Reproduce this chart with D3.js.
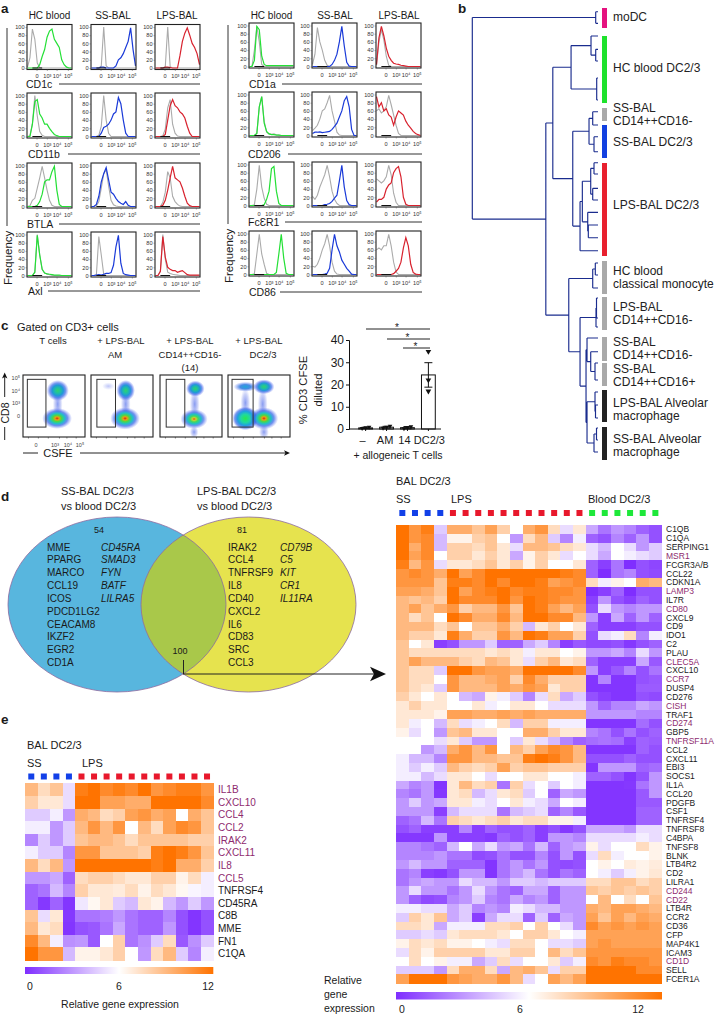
<!DOCTYPE html>
<html>
<head>
<meta charset="utf-8">
<script src="https://cdn.jsdelivr.net/npm/d3@7/dist/d3.min.js"></script>
<style>
	html, body { margin: 0; padding: 0; background: #fff; }
	svg { display: block; }
	text { font-family: "Liberation Sans", Arial, sans-serif; fill: #1a1a1a; }
</style>
</head>
<body>
<svg id="fig" width="718" height="1017"></svg>
<script>
// ---- panel a: histograms, 19 bins per panel, rows are markers, columns HC / SS / LPS
let histMarkersLeft = ['CD1c', 'CD11b', 'BTLA', 'Axl']
let histMarkersRight = ['CD1a', 'CD206', 'FcƐR1', 'CD86']
let histColumns = ['HC blood', 'SS-BAL', 'LPS-BAL']
let histTickBins = [3.7, 7.9, 11.9, 16.5]
let histTickLabels = ['0', '10³', '10⁴', '10⁵']
let histFreqTicks = [0, 20, 40, 60, 80, 100]

let grayLeft = [
	[[2,25,95,70,12,1,0,0,0,0,0,0,0,0,0,0,0,0,0], [0,0,0,0,5,100,5,0,0,0,0,0,0,0,0,0,0,0,0], [0,0,0,0,3,100,3,0,0,0,0,0,0,0,0,0,0,0,0]],
	[[0,2,30,100,50,12,3,0,0,0,0,0,0,0,0,0,0,0,0], [0,0,0,3,25,100,40,8,0,0,0,0,0,0,0,0,0,0,0], [0,0,0,2,18,70,90,30,8,1,0,0,0,0,0,0,0,0,0]],
	[[0,2,15,20,45,70,98,70,40,15,3,0,0,0,0,0,0,0,0], [0,0,2,12,45,80,90,50,15,4,1,0,0,0,0,0,0,0,0], [0,0,0,10,35,85,70,25,12,5,1,0,0,0,0,0,0,0,0]],
	[[0,0,0,8,100,50,15,6,4,2,1,0,0,0,0,0,0,0,0], [0,0,2,95,50,3,0,0,0,0,0,0,0,0,0,0,0,0,0], [0,0,10,100,40,8,5,3,2,1,0,0,0,0,0,0,0,0,0]]
]
let colorLeft = [
	[[0,0,0,0,0,8,28,45,75,90,95,70,60,50,20,8,2,0,0], [0,0,0,0,2,2,0,0,0,0,5,20,25,35,50,65,98,45,5], [0,0,0,0,2,2,1,0,0,0,30,65,85,98,80,60,50,35,8]],
	[[0,0,30,85,90,55,45,30,30,20,12,5,2,0,0,0,0,0,0], [0,0,0,0,8,22,25,30,40,55,60,95,80,40,8,0,0,0,0], [0,0,0,0,5,40,75,90,75,70,60,55,45,25,8,0,0,0,0]],
	[[0,0,0,0,3,12,30,60,65,65,85,98,40,5,0,0,0,0,0], [0,0,5,25,60,80,95,65,35,30,20,12,8,5,12,3,0,0,0], [0,0,0,3,15,40,70,98,70,65,60,45,25,8,2,0,0,0,0]],
	[[0,0,0,8,98,50,15,6,4,3,2,1,1,1,0,0,0,0,0], [0,0,1,2,1,3,5,5,7,25,70,98,30,5,2,1,0,0,0], [0,0,10,95,45,20,15,12,12,8,10,12,7,2,1,1,1,1,1]]
]
let grayRight = [
	[[0,0,40,98,60,5,0,0,0,0,0,0,0,0,0,0,0,0,0], [5,30,95,60,40,15,3,0,0,0,0,0,0,0,0,0,0,0,0], [3,60,90,65,25,3,0,0,0,0,0,0,0,0,0,0,0,0,0]],
	[[0,0,0,5,70,95,35,8,4,3,4,2,1,0,0,0,0,0,0], [12,18,25,40,60,65,80,98,60,35,8,1,0,0,0,0,0,0,0], [60,65,55,60,70,98,75,50,25,5,0,0,0,0,0,0,0,0,0]],
	[[0,0,2,40,98,45,18,3,0,0,0,0,0,0,0,0,0,0,0], [22,15,25,45,60,75,98,70,35,15,5,0,0,0,0,0,0,0,0], [65,60,55,60,70,98,75,30,8,0,0,0,0,0,0,0,0,0,0]],
	[[0,0,2,50,98,50,25,3,0,0,0,0,0,0,0,0,0,0,0], [20,18,25,40,60,75,98,70,30,8,1,0,0,0,0,0,0,0,0], [60,65,60,70,70,98,70,30,6,0,0,0,0,0,0,0,0,0,0]]
]
let colorRight = [
	[[0,0,15,98,90,25,5,2,2,2,2,2,2,2,2,2,2,2,2], [0,0,0,0,0,0,0,0,5,15,30,60,98,50,10,1,0,0,0], [5,70,98,75,45,25,15,8,6,5,3,2,1,0,0,0,0,0,0]],
	[[0,0,0,5,70,95,30,10,4,2,2,1,1,0,0,0,0,0,0], [5,8,8,9,7,8,9,10,15,22,30,45,60,85,95,70,15,0,0], [95,70,80,60,65,50,45,25,45,60,55,50,35,25,18,10,5,2,0]],
	[[0,0,0,0,0,0,2,15,35,90,95,35,5,0,0,0,0,0,0], [0,0,0,0,0,2,3,5,10,18,25,60,98,45,12,2,0,0,0], [8,15,15,20,40,50,55,80,90,95,70,20,3,0,0,0,0,0,0]],
	[[0,0,0,0,0,0,0,0,0,0,0,5,50,98,40,3,0,0,0], [0,0,0,0,0,1,3,15,60,98,70,55,35,25,15,8,1,0,0], [0,0,0,0,0,0,0,2,8,15,30,65,90,70,25,5,1,0,0]]
]

// ---- panel b: dendrogram, h = merge distance, r = leaf position
let dendroTree = {h: 0, kids: [
	{h: 1.237, kids: [{r: 1.17}, {r: 2.33}]},
	{h: 0.737, kids: [
		{h: 0.807, kids: [
			{h: 0.99, kids: [
				{h: 1.19, kids: [{r: 3.6}, {h: 1.237, kids: [{r: 4.93}, {r: 6.1}]}]},
				{h: 1.247, kids: [{r: 7.8}, {r: 10.0}]}
			]},
			{h: 1.007, kids: [
				{h: 1.17, kids: [
					{h: 1.207, kids: [{r: 11.17}, {r: 12.5}]},
					{h: 1.22, kids: [{r: 13.67}, {r: 15.17}]}
				]},
				{h: 1.08, kids: [
					{h: 1.103, kids: [
						{h: 1.187, kids: [
							{h: 1.22, kids: [{r: 16.27}, {r: 17.4}]},
							{h: 1.207, kids: [{r: 18.83}, {r: 20.0}]}
						]},
						{h: 1.157, kids: [{r: 21.23}, {h: 1.163, kids: [{r: 22.5}, {r: 23.77}]}]}
					]},
					{r: 25.07}
				]}
			]}
		]},
		{h: 0.967, kids: [
			{h: 1.207, kids: [{h: 1.233, kids: [{r: 26.3}, {r: 27.5}]}, {r: 28.8}]},
			{h: 1.08, kids: [
				{h: 1.24, kids: [{h: 1.245, kids: [{r: 29.8}, {r: 31.8}]}, {r: 32.7}]},
				{h: 1.14, kids: [
					{h: 1.15, kids: [{r: 33.8}, {h: 1.187, kids: [{r: 35.17}, {h: 1.23, kids: [{r: 36.3}, {r: 38.0}]}]}]},
					{h: 1.15, kids: [
						{h: 1.23, kids: [{r: 39.2}, {h: 1.235, kids: [{r: 40.5}, {r: 41.8}]}]},
						{h: 1.22, kids: [{h: 1.245, kids: [{r: 42.8}, {r: 44.0}]}, {r: 45.2}]}
					]}
				]}
			]}
		]}
	]}
]}
let dendroStarts = [0.8, 3.6, 10.8, 12.5, 16.3, 26.1, 29.7, 33.7, 36.3, 39.0, 42.7]
let dendroEnds = [2.8, 10.3, 12.1, 15.8, 25.6, 29.4, 33.0, 36.1, 38.6, 42.2, 46.0]
let dendroColors = ['#e5127f', '#1ee22c', '#a9a9a9', '#1240e0', '#e8202e', '#a9a9a9', '#a9a9a9', '#a9a9a9', '#a9a9a9', '#222', '#222']
let dendroLabels = [['moDC'], ['HC blood DC2/3'], ['SS-BAL', 'CD14++CD16-'], ['SS-BAL DC2/3'], ['LPS-BAL DC2/3'], ['HC blood', 'classical monocyte'], ['LPS-BAL', 'CD14++CD16-'], ['SS-BAL', 'CD14++CD16-'], ['SS-BAL', 'CD14++CD16+'], ['LPS-BAL Alveolar', 'macrophage'], ['SS-BAL Alveolar', 'macrophage']]

// ---- panel c: flow blobs [x %, y %, rx %, ry %, kind] per plot, and bars
let flowTitles = [['T cells'], ['+ LPS-BAL', 'AM'], ['+ LPS-BAL', 'CD14++CD16-', '(14)'], ['+ LPS-BAL', 'DC2/3']]
let flowGates = [[7, 30], [9.5, 30], [10, 30], [6.5, 34]]
let flowBlobs = [
	[[56, 25, 18, 17, 'mid'], [55, 70, 24, 17, 'hot']],
	[[56, 25, 15, 17, 'mid'], [55, 70, 24, 18, 'hot'], [28, 18, 10, 6, 'faint']],
	[[57, 22, 15, 13, 'mid'], [55, 71, 22, 16, 'warm']],
	[[28, 19, 19, 8, 'cool'], [58, 19, 17, 12, 'mid'], [28, 70, 21, 19, 'green'], [58, 70, 23, 18, 'hot']]
]
let cd8TickLabels = ['10⁵', '10⁴', '10³', '0']
let cd8TickPos = [5, 25, 45, 66]

let barCategories = ['–', 'AM', '14', 'DC2/3']
let barMeans = [0.5, 0.8, 0.6, 24.3]
let barErrors = [0.3, 0.4, 0.5, 5.5]
let barPoints = [[0.3, 0.6, 0.9], [0.4, 0.9, 1.3], [0.2, 0.6, 1.1], [34.8, 22, 17]]
let barTicks = [0, 10, 20, 30, 40]
let sigFrom = [0, 1, 2]

// ---- panel d: venn lists
let vennLeftGenes = ['MME', 'PPARG', 'MARCO', 'CCL19', 'ICOS', 'PDCD1LG2', 'CEACAM8', 'IKZF2', 'EGR2', 'CD1A']
let vennLeftItalic = ['CD45RA', 'SMAD3', 'FYN', 'BATF', 'LILRA5']
let vennRightGenes = ['IRAK2', 'CCL4', 'TNFRSF9', 'IL8', 'CD40', 'CXCL2', 'IL6', 'CD83', 'SRC', 'CCL3']
let vennRightItalic = ['CD79B', 'C5', 'KIT', 'CR1', 'IL11RA']

// ---- panels d / e: heat maps (0 purple, 6 white, 12 orange)
let colorDomain = [0, 6, 12]
let colorRange = ['#7f2eff', '#ffffff', '#ff7300']
let legendTicks = [0, 6, 12]

let bigGenes = ['C1QB', 'C1QA', 'SERPING1', 'MSR1', 'FCGR3A/B', 'CCL22', 'CDKN1A', 'LAMP3', 'IL7R', 'CD80', 'CXCL9', 'CD9', 'IDO1', 'C2', 'PLAU', 'CLEC5A', 'CXCL10', 'CCR7', 'DUSP4', 'CD276', 'CISH', 'TRAF1', 'CD274', 'GBP5', 'TNFRSF11A', 'CCL2', 'CXCL11', 'EBI3', 'SOCS1', 'IL1A', 'CCL20', 'PDGFB', 'CSF1', 'TNFRSF4', 'TNFRSF8', 'C4BPA', 'TNFSF8', 'BLNK', 'LTB4R2', 'CD2', 'LILRA1', 'CD244', 'CD22', 'LTB4R', 'CCR2', 'CD36', 'CFP', 'MAP4K1', 'ICAM3', 'CD1D', 'SELL', 'FCER1A']
let bigPurple = ['MSR1', 'LAMP3', 'CD80', 'CLEC5A', 'CCR7', 'CISH', 'CD274', 'TNFRSF11A', 'CD244', 'CD22', 'CD1D']
let bigValues = [
	[12,10.5,11.5,4.5, 9.5,9.5,8.5,10,8,6,9.5,10.5,7.5,5,7, 3.5,2,3,2.5,1.5,1],
	[12,10.5,11,4, 6.5,6.5,8,8.5,6,3,7.5,9,4.5,2.5,5.5, 1.5,1,2.5,1.5,3,1],
	[12,9.5,11,4, 8,8,7.5,8.5,7,5,9,9,8.5,7.5,7, 5,4,6,5,3,4.5],
	[12,10,11,6, 8,8,7,8,7,3.5,6.5,8,7,5,6, 5,3.5,6,5.5,5,4.5],
	[11.5,9,10.5,5, 7,7,7.5,8.5,7,8,6.5,8,6,6,7, 1.5,0.5,2,0,1,0.7],
	[10.5,11,10.5,9.5, 12,10,11,12,12.3,12,12,12,12,11.5,11, 1.5,0,2,2.5,1,0.8],
	[10.5,10.5,10.5,8.5, 11.5,11.5,11,12,11,12,12,11.5,10,10.5,11, 7.5,5.5,6.5,6,9.5,9],
	[10,10,9.5,8.5, 12,10,11,11.5,12,11,11.5,11.5,11,11,10.5, 0,0.5,1.5,0,1,1],
	[9,8.5,9,8, 12,11,11,11,12,10.5,12,11.5,11,10.5,10.5, 0.5,3,1,0.5,1.5,1],
	[9,10,8.5,9.5, 10.5,8,9,9,10.5,8.5,12,11.5,10,9,10, 1,5,3,2.5,3,3],
	[9,7.5,8.5,6, 12,11,9.5,9.5,11,9,12.5,12.5,11,11,9, 3,0.5,3.5,1.5,3,1.5],
	[9,9,9,7.5, 8.5,6,8.5,8.5,9.5,8,4,7,8,6,7, 1.5,0.5,0.5,0.5,1,1],
	[9,8,8,7, 11.5,9.5,8,8,10.5,9,12,11.5,10,10,8, 1,5,5.5,7.5,2.5,5.5],
	[8.5,6,7,0.5, 1,3,3,4.5,1.5,1.5,3.5,4.5,2.5,0.5,1.2, 0.8,0.8,1,0.3,1,1.5],
	[8.5,7.5,7.5,7.5, 7.5,7.5,7.5,7,7.5,7,5.5,7,7,6,6.5, 3,3,3.5,2.5,5,3],
	[8.5,10,9,9, 9,8,7.5,9,8.5,7,5,8,9,7,7.5, 1.5,0.5,0.5,0.5,3.5,1.2],
	[8.5,7.5,7.5,4.5, 12,12,10.5,10,10,9.5,12,12,12,12,11, 3,0.5,1.2,2.5,1,2],
	[8.5,7.5,7.5,6, 10.5,9,9,9.5,10,8,11,9.5,8,8,8, 0.2,2.5,0.2,0.2,1,1.2],
	[8.5,7.5,7,4.5, 10.5,9,9,9,10,9.5,10.5,10,7,8,8, 0.2,0.2,0.2,0.2,1.3,1.3],
	[8,7,6,7, 6,4,3.5,6.5,5.5,4.5,2.5,5,7.5,3.5,4.5, 1,0.5,0.2,0.2,1,0.8],
	[7,8,7,7, 6,6,7,5.5,6,7,7,6,5,5,5, 3,1.5,2.5,2.5,3.5,3],
	[7,7,7,6.5, 10,10,9.5,9.5,10,9.5,10,9.5,9.5,9.5,9.5, 3,3,3,3,2.5,2.5],
	[7,5.5,6,4, 7.5,5,5.5,6,7.5,4,8,8,5.5,5.5,5.5, 0.2,0.2,0.2,0.2,1.8,1],
	[6.5,5,6,3, 8.5,9,7,7,6,6,9.5,9.5,8,7,7, 2.5,2,1,2,1,1.5],
	[6,6,6,5, 7,4.5,3,3,6,4.5,7,5,4,2.5,1.5, 1.8,2,1.8,0.5,1.5,1.3],
	[6,6,3,4, 9.5,10.5,9,10.5,6,9,8,10,11,10.5,9, 0.2,0.2,0.2,0.2,1.5,1],
	[5.5,4,4,2.5, 10.5,10.5,9,9,8.5,8.5,11.5,12,11.5,10.5,9, 1,1,1,1.5,1,1],
	[5.5,4.5,5.5,4.5, 9,8,7.5,8,10,8,8.5,8.5,8,8,8, 0.2,3,3,3,1.5,1.8],
	[5.5,5.5,4,5, 7,7,6,5,6,6,7,7,6,6,5.5, 1.5,1.5,1,0.2,1,3],
	[3.5,2.5,3,0.2, 7,9,7.5,8,2,8,5,6,4.5,6,5.5, 0.2,0.2,0.2,0.3,2,3],
	[2.5,2,3,0.3, 7,7.5,4,5,7,7.5,4.5,6,1.5,3.5,3, 0.2,0.2,0.2,0.2,1.2,3],
	[3,4.5,3,3.5, 7,7,5.5,5,6,7,5.5,5,3.5,6,5.5, 0.2,0.2,0.2,0.2,1.2,1.2],
	[3,3,3,0.5, 4,5,5,5,2,4,4.5,5,1.5,2.5,1.2, 0.2,0.2,0.2,0.2,1.5,1.5],
	[1.5,2,4,2, 8,7.5,7,7.5,8,7,7.5,7.5,6.5,6.5,5.5, 0.2,0.2,0.2,0.2,1.5,1.5],
	[1,1.5,0.5,0.5, 0.5,2.5,0.5,1.5,1,1,1.5,0.5,1,0.3,1, 3.5,3.5,3.5,3,5,5],
	[0.3,0.3,0.3,3, 0.5,0.5,0.5,0.3,1.5,1,1.5,0.5,3,3,2.5, 5,5,5,5,5.5,5],
	[2.5,2.5,2,1.5, 4,6,3.5,5,3,3.5,2,4,1.5,3,3.5, 6.5,5,6,6,7.5,6.5],
	[2.5,2.5,2.5,3, 2,2,0.8,1,2,1,1,2.5,1,3,1, 5,7.5,5.5,6,6,6.5],
	[3,4,3,3, 1.5,1.5,1.5,0.2,2,3,2,3,1,0.8,1, 6,6.5,6,6.8,6.5,6.8],
	[2,2.5,0.5,0.3, 1,3,3,0.2,2,3,4,2,1,2,1.5, 6,5.5,4.5,5.5,6.5,7],
	[2,3,3.5,3, 3,5,4,4,3,4.5,4.5,4,4.5,4.5,4.5, 7.5,7.5,8.5,8.5,7.5,8],
	[3,5,3,3, 2,3,5,3,2,1.5,3.5,3.5,1.5,3,3, 8.5,8,8.5,8,8.5,8],
	[3,1.5,0.8,1, 2.5,3,4.5,2.5,2,3.5,2.5,3,1.5,3,3, 6,9,6,7.5,6,8.5],
	[5.5,5.5,5,5, 3.5,4.5,2.5,3,2.5,5.5,5,4,4,3,3, 9.5,9,10,10,9.5,9],
	[4.5,8,7,8.5, 3.5,4.5,0.5,3.5,5,5,1.5,4.5,1.5,3.5,3, 10,8.5,10,9,10,9.5],
	[7.5,7.5,7,3.5, 5.5,5.5,5.5,7.5,7.5,8,6,8,6,5,3, 11,10,10.5,10,10.5,10],
	[4.5,4.5,5,4.5, 7,7.5,7.5,7.5,7,6,8,8,7,6,5.5, 10,10,10,10,10,10],
	[6.5,7.5,7,7.5, 6.5,6.5,6,5.5,5,7.5,7.5,6,5,5,4.5, 10,10.5,10,10,10,10],
	[5,7.5,6.5,8, 8,8,8,7,7,8,8,6,9,7.5,8.5, 10.5,10.5,10.5,10.5,10.5,10.5],
	[6,7.5,6,6.5, 5.5,5.5,3.5,4.5,7.5,5,6,6,7,4.5,5.5, 11,10.5,11.5,11,11,10.5],
	[4.5,4.5,4.5,3, 7.5,9.5,9.5,7.5,3.5,9,9.5,8.5,5,8,8, 12,12,12,12,11,11],
	[10,12,12,12, 10.5,10,9.5,9.5,10.5,9,5,6,10,9,10, 12.5,12.5,12.5,12.5,12.5,12.5]
]
let bigGroups = ['ss','ss','ss','ss','lps','lps','lps','lps','lps','lps','lps','lps','lps','lps','lps','blood','blood','blood','blood','blood','blood']

let smallGenes = ['IL1B', 'CXCL10', 'CCL4', 'CCL2', 'IRAK2', 'CXCL11', 'IL8', 'CCL5', 'TNFRSF4', 'CD45RA', 'C8B', 'MME', 'FN1', 'C1QA']
let smallPurple = ['IL1B', 'CXCL10', 'CCL4', 'CCL2', 'IRAK2', 'CXCL11', 'IL8', 'CCL5']
let smallValues = [
	[9,7.5,8.5,5, 11.5,12,11,11.5,11,12,10.5,11,11.5,11.5,10.5],
	[8,7,7,5, 12,12,10,10,9.5,9.5,12,12,12.3,12,11],
	[4.5,4.5,5.5,3, 9.5,9,7.5,8,10,10.5,9.5,10,6,9.5,8.5],
	[5.5,5.5,3,4.5, 9,10.5,9,10.5,6,9,7.5,10,11,10.5,8.5],
	[2.5,4.5,3,4.5, 8.5,9,9,8.5,7.5,8.5,8.5,8.5,8.5,8,8],
	[5.5,4.5,4.5,2.5, 10.5,10.5,8.5,8.5,8.5,8,11.5,12,11.5,10.5,8.5],
	[9,7.5,9,3, 12.5,12.5,12,12,12,12.5,11.5,12,9.5,9.5,8],
	[3,3,3.5,1.5, 7.5,8,8,7.5,7,7,8,8,6.5,7.5,5.5],
	[1.5,2,4,2.5, 8,7,7,6.8,7.5,6.5,7.5,7,6.3,5.7,5.5],
	[1.5,0.3,1.5,0.2, 5.3,6.3,7,4.5,4,7,6.5,4,3,4.5,3],
	[8.5,5,7,0.3, 2,2,2.3,3,2,1.5,1.5,2.5,1,0.2,1],
	[9,7,7.5,0.2, 1,1.2,2,3.5,2,1.5,1.5,3,1,0.2,1],
	[11,9,5.5,2.8, 3,1.2,6,8,2,2.8,4.5,7.5,1.2,2.8,4.5],
	[12,10.5,10.5,4, 6.5,6.5,7,8,6,3,7.5,9,4.5,2.5,5.5]
]
let smallGroups = ['ss','ss','ss','ss','lps','lps','lps','lps','lps','lps','lps','lps','lps','lps','lps']

// ---- drawing
let svg = d3.select('#fig')
let defs = svg.append('defs')
let groupColors = {ss: '#1240e8', lps: '#e8182c', blood: '#1ee83a'}

function label(parent, x, y, str, size, opts) {
	opts = opts || {}
	return parent.append('text')
		.attr('x', x).attr('y', y)
		.attr('font-size', size)
		.attr('text-anchor', opts.anchor || 'start')
		.attr('font-weight', opts.weight || null)
		.attr('font-style', opts.style || null)
		.style('fill', opts.fill || null)
		.text(str)
}

function hline(parent, x1, x2, y, width, color) {
	parent.append('line').attr('x1', x1).attr('x2', x2).attr('y1', y).attr('y2', y)
		.attr('stroke', color || '#222').attr('stroke-width', width || 1)
}

function vline(parent, x, y1, y2, width, color) {
	parent.append('line').attr('x1', x).attr('x2', x).attr('y1', y1).attr('y2', y2)
		.attr('stroke', color || '#222').attr('stroke-width', width || 1)
}

function arrowHead(parent, tipX, tipY, dir, size) {
	let s = size || 6
	let pts = dir == 'right'
		? [[tipX, tipY], [tipX - s, tipY - s * 0.45], [tipX - s * 0.75, tipY], [tipX - s, tipY + s * 0.45]]
		: [[tipX, tipY], [tipX - s * 0.45, tipY + s], [tipX, tipY + s * 0.75], [tipX + s * 0.45, tipY + s]]
	parent.append('polygon').attr('points', pts.map(p => p.join(',')).join(' ')).attr('fill', '#111')
}

;['a', 'b', 'c', 'd', 'e'].forEach((l, i) => {
	let pos = [[1, 13], [458, 13], [1, 330], [1, 501], [1, 724]][i]
	label(svg, pos[0], pos[1], l, 13.5, {weight: 'bold'})
})

// panel a
let histColors = ['#24e036', '#1a3ad8', '#d8222e']
let histLine = d3.line().curve(d3.curveLinear)

function drawHistPanel(x0, y0, w, h, gray, color, stroke) {
	let g = svg.append('g').attr('transform', `translate(${x0},${y0})`)
	let xs = d3.scaleLinear().domain([0, 18]).range([0.5, w - 0.5])
	let ys = d3.scaleLinear().domain([0, 100]).range([h - 1.5, 2.5])
	let line = histLine.x((d, i) => xs(i)).y(d => ys(d))
	g.append('path').attr('d', line(gray)).attr('fill', 'none').attr('stroke', '#ababab').attr('stroke-width', 1.1)
	g.append('path').attr('d', line(color)).attr('fill', 'none').attr('stroke', stroke).attr('stroke-width', 1.2)
	g.append('line').attr('x1', xs(2)).attr('x2', xs(6)).attr('y1', ys(0)).attr('y2', ys(0)).attr('stroke', '#111').attr('stroke-width', 1)
	g.append('rect').attr('width', w).attr('height', h).attr('fill', 'none').attr('stroke', '#222').attr('stroke-width', 1.1)

	let yAxis = d3.axisLeft(ys).tickValues(histFreqTicks).tickSize(1.5).tickPadding(1)
	let xAxis = d3.axisBottom(xs).tickValues(histTickBins).tickFormat((d, i) => histTickLabels[i]).tickSize(1.5).tickPadding(3.5)
	let ya = g.append('g').call(yAxis)
	let xa = g.append('g').attr('transform', `translate(0,${h})`).call(xAxis)
	;[ya, xa].forEach(a => {
		a.select('.domain').remove()
		a.selectAll('line').attr('stroke', '#555').attr('stroke-width', 0.5)
		a.selectAll('text').attr('font-size', 5.6).style('fill', '#333')
	})
}

function drawHistBlock(colX, rowY, w, h, markers, gray, color) {
	markers.forEach((m, r) => {
		colX.forEach((cx, c) => {
			drawHistPanel(cx, rowY[r], w, h, gray[r][c], color[r][c], histColors[c])
		})
	})
}

let leftColX = [27, 91, 155]
let rightColX = [249, 312, 376]
drawHistBlock(leftColX, [24.5, 93, 163, 232], 45, 45, histMarkersLeft, grayLeft, colorLeft)
drawHistBlock(rightColX, [23, 92, 162, 231], 45, 45, histMarkersRight, grayRight, colorRight)

histColumns.forEach((t, i) => {
	label(svg, [49.5, 113, 177][i], 19, t, 10, {anchor: 'middle'})
	label(svg, [271.5, 335, 399][i], 19, t, 10, {anchor: 'middle'})
})

let leftMarkerPos = [[26, 88, 59], [28, 158, 68], [27, 228, 59], [28, 295, 48]]
histMarkersLeft.forEach((m, i) => {
	let p = leftMarkerPos[i]
	label(svg, p[0], p[1], m, 10.5)
	hline(svg, p[2], 200, p[1] - 4, 1, '#333')
})
let rightMarkerPos = [[249, 88, 282], [248, 158, 288], [248, 226, 285], [249, 296, 280]]
histMarkersRight.forEach((m, i) => {
	let p = rightMarkerPos[i]
	label(svg, p[0], p[1], m, 10.5)
	hline(svg, p[2], 422, p[1] - 4, 1, '#333')
})

vline(svg, 7, 28, 226, 1, '#333')
vline(svg, 228, 25, 224, 1, '#333')
label(svg, 0, 0, 'Frequency', 11.5, {anchor: 'start'}).attr('transform', 'translate(12,285) rotate(-90)').attr('x', 0).attr('y', 0)
label(svg, 0, 0, 'Frequency', 11.5, {anchor: 'start'}).attr('transform', 'translate(233,283) rotate(-90)').attr('x', 0).attr('y', 0)

// panel b
let dendroX = d3.scaleLinear().domain([0, 1.26]).range([472.3, 598])
let dendroY = d3.scaleLinear().domain([0, 46]).range([0, 460])
let dendroRoot = d3.hierarchy(dendroTree, d => d.kids)
dendroRoot.eachAfter(n => {
	if (n.children) {
		let first = n.children[0].rr
		let last = n.children[n.children.length - 1].rr
		n.rr = (first + last) / 2
		n.hh = n.data.h
	} else {
		n.rr = n.data.r
		n.hh = 1.26
	}
})
let dendroG = svg.append('g').attr('fill', 'none').attr('stroke', '#1a2c8e').attr('stroke-width', 1.15)
let dendroPath = ''
dendroRoot.descendants().forEach(n => {
	if (!n.children) return
	let px = dendroX(n.hh)
	let ys = n.children.map(c => dendroY(c.rr))
	dendroPath += `M${px},${ys[0]}V${ys[ys.length - 1]}`
	n.children.forEach(c => {
		dendroPath += `M${px},${dendroY(c.rr)}H${dendroX(c.hh)}`
	})
})
dendroG.append('path').attr('d', dendroPath)

dendroStarts.forEach((s, i) => {
	svg.append('rect')
		.attr('x', 602).attr('width', 5)
		.attr('y', dendroY(s))
		.attr('height', dendroY(dendroEnds[i]) - dendroY(s))
		.attr('fill', dendroColors[i])
})
let dendroLabelY = [21, 72, 112, 146, 209, 275, 311, 346, 373, 407, 443]
dendroLabels.forEach((lines, i) => {
	lines.forEach((t, j) => {
		label(svg, 613, dendroLabelY[i] + j * 13, t, 12, {fill: '#222'})
	})
})

// panel c
label(svg, 17, 331, 'Gated on CD3+ cells', 11)
let flowX = [23, 91, 160, 228]
let flowCenters = [53, 121, 190, 259]
flowTitles.forEach((lines, i) => {
	lines.forEach((t, j) => {
		let cx = flowCenters[i]
		if (i == 1 && j == 1) cx = 115
		if (i == 3 && j == 1) cx = 263
		label(svg, cx, 344 + j * 13.5, t, 9.5, {anchor: 'middle'})
	})
})

function radial(id, stops) {
	let grad = defs.append('radialGradient').attr('id', id)
	stops.forEach(s => {
		grad.append('stop').attr('offset', s[0]).attr('stop-color', s[1]).attr('stop-opacity', s[2])
	})
}
radial('hot', [[0, '#d8261c', 1], [0.14, '#e8a010', 1], [0.3, '#48d848', 1], [0.5, '#20c0c8', 1], [0.7, '#3060e8', 0.7], [1, '#6070f0', 0]])
radial('warm', [[0, '#e85018', 1], [0.14, '#c8d030', 1], [0.3, '#40d860', 1], [0.5, '#20c0c8', 1], [0.7, '#3060e8', 0.65], [1, '#6070f0', 0]])
radial('mid', [[0, '#30d070', 1], [0.25, '#20c0a0', 1], [0.5, '#2098d8', 1], [0.72, '#3060e8', 0.65], [1, '#6070f0', 0]])
radial('green', [[0, '#28e850', 1], [0.35, '#20d8a0', 1], [0.6, '#20a0e0', 1], [0.82, '#3060e8', 0.65], [1, '#6070f0', 0]])
radial('cool', [[0, '#20a8d8', 1], [0.45, '#2878e0', 0.85], [1, '#6070f0', 0]])
radial('faint', [[0, '#7080f0', 0.45], [1, '#8090f0', 0]])
radial('haze', [[0, '#3a5ae8', 0.6], [0.6, '#5a70e8', 0.3], [1, '#8090f0', 0]])

let flowPct = d3.scaleLinear().domain([0, 100]).range([0, 62])
flowX.forEach((x0, i) => {
	let g = svg.append('g').attr('transform', `translate(${x0},375)`)
	let clipId = 'flow' + i
	defs.append('clipPath').attr('id', clipId).append('rect').attr('width', 62).attr('height', 62)
	let inner = g.append('g').attr('clip-path', `url(#${clipId})`)
	inner.append('ellipse').attr('cx', flowPct(56)).attr('cy', flowPct(47)).attr('rx', flowPct(8)).attr('ry', flowPct(26)).attr('fill', 'url(#haze)')
	if (i == 3) {
		inner.append('ellipse').attr('cx', flowPct(28)).attr('cy', flowPct(45)).attr('rx', flowPct(8)).attr('ry', flowPct(24)).attr('fill', 'url(#haze)')
		inner.append('ellipse').attr('cx', flowPct(58)).attr('cy', flowPct(92)).attr('rx', flowPct(8)).attr('ry', flowPct(12)).attr('fill', 'url(#haze)')
	}
	if (i == 2) {
		inner.append('ellipse').attr('cx', flowPct(55)).attr('cy', flowPct(92)).attr('rx', flowPct(7)).attr('ry', flowPct(10)).attr('fill', 'url(#haze)')
	}
	flowBlobs[i].forEach(b => {
		inner.append('ellipse')
			.attr('cx', flowPct(b[0])).attr('cy', flowPct(b[1]))
			.attr('rx', flowPct(b[2])).attr('ry', flowPct(b[3]))
			.attr('fill', `url(#${b[4]})`)
	})
	let gate = flowGates[i]
	g.append('rect')
		.attr('x', flowPct(gate[0])).attr('width', flowPct(gate[1]))
		.attr('y', flowPct(7)).attr('height', flowPct(77))
		.attr('fill', 'none').attr('stroke', '#333').attr('stroke-width', 1)
	g.append('rect').attr('width', 62).attr('height', 62).attr('fill', 'none').attr('stroke', '#222').attr('stroke-width', 1.1)
	let bottomTicks = d3.axisBottom(flowPct).tickValues([8, 24, 40, 58, 70, 85]).tickSize(1.5).tickFormat('')
	let ba = g.append('g').attr('transform', 'translate(0,62)').call(bottomTicks)
	ba.select('.domain').remove()
	ba.selectAll('line').attr('stroke', '#333').attr('stroke-width', 0.6)
})

cd8TickLabels.forEach((t, i) => {
	label(svg, 20, 375 + flowPct(cd8TickPos[i]) + 2, t, 5.5, {anchor: 'end', fill: '#444'})
})
;[[36, '0'], [55, '10³'], [68, '10⁴'], [80, '10⁵']].forEach(p => {
	label(svg, p[0], 446.5, p[1], 5.5, {anchor: 'middle', fill: '#444'})
})
vline(svg, 4.7, 376, 397, 1, '#222')
arrowHead(svg, 4.7, 372.5, 'up', 6)
label(svg, 0, 0, 'CD8', 10.5, {anchor: 'middle'}).attr('transform', 'translate(8.5,413) rotate(-90)').attr('x', 0).attr('y', 0)
vline(svg, 4.7, 427, 440, 1, '#222')
hline(svg, 23, 38, 453, 1, '#222')
label(svg, 58, 457, 'CSFE', 11, {anchor: 'middle'})
hline(svg, 80, 286, 453, 1, '#222')
arrowHead(svg, 290, 453, 'right', 6)

// bar chart
let barY = d3.scaleLinear().domain([0, 40]).range([429, 340])
let barX = d3.scaleBand().domain(barCategories).range([351.6, 442.4]).padding(0.34)
let barG = svg.append('g')
barG.selectAll('rect').data(barMeans).join('rect')
	.attr('x', (d, i) => barX(barCategories[i]))
	.attr('width', barX.bandwidth())
	.attr('y', d => barY(d))
	.attr('height', d => barY(0) - barY(d))
	.attr('fill', '#fff').attr('stroke', '#111').attr('stroke-width', 1)
barErrors.forEach((e, i) => {
	let cx = barX(barCategories[i]) + barX.bandwidth() / 2
	let m = barMeans[i]
	vline(barG, cx, barY(m + e), barY(Math.max(0, m - e)), 1, '#111')
	hline(barG, cx - 4, cx + 4, barY(m + e), 1, '#111')
	hline(barG, cx - 4, cx + 4, barY(Math.max(0, m - e)), 1, '#111')
	barPoints[i].forEach((p, j) => {
		barG.append('path')
			.attr('d', d3.symbol(d3.symbolTriangle, i == 3 ? 14 : 9)())
			.attr('transform', `translate(${cx + (i == 3 ? 0 : (j - 1) * 3.5)},${barY(p)}) rotate(180)`)
			.attr('fill', '#111')
	})
})
let barLeft = svg.append('g').attr('transform', 'translate(349,0)').call(d3.axisLeft(barY).tickValues(barTicks).tickSize(3).tickPadding(2))
barLeft.selectAll('text').attr('font-size', 12)
barLeft.selectAll('line, path').attr('stroke', '#111').attr('stroke-width', 1)
let barBottom = svg.append('g').attr('transform', 'translate(0,429)').call(d3.axisBottom(barX).tickSize(2).tickPadding(5))
barBottom.select('.domain').attr('d', 'M349,0H441').attr('stroke', '#111').attr('stroke-width', 1)
barBottom.selectAll('line').attr('stroke', '#111')
barBottom.selectAll('text').attr('font-size', 11).attr('dx', (d, i) => [-3, -1.5, -3, 1][i])
label(svg, 398, 459, '+ allogeneic T cells', 10.5, {anchor: 'middle'})
label(svg, 0, 0, '% CD3 CFSE', 11.2, {anchor: 'middle'}).attr('transform', 'translate(307,390) rotate(-90)').attr('x', 0).attr('y', 0)
label(svg, 0, 0, 'diluted', 11.2, {anchor: 'middle'}).attr('transform', 'translate(322,390) rotate(-90)').attr('x', 0).attr('y', 0)
let sigY = [329, 339, 348]
let sigStart = [366, 387, 403]
sigFrom.forEach(i => {
	hline(svg, sigStart[i], 430, sigY[i], 1, '#222')
	label(svg, (sigStart[i] + 430) / 2 - 1, sigY[i] + 2, '*', 10, {anchor: 'middle'})
})

// panel d: venn
label(svg, 61, 495, 'SS-BAL DC2/3', 11)
label(svg, 61, 510, 'vs blood DC2/3', 11)
label(svg, 197, 495, 'LPS-BAL DC2/3', 11)
label(svg, 197, 510, 'vs blood DC2/3', 11)
let vennA = {cx: 117, cy: 604.5, rx: 109, ry: 87.5}
let vennB = {cx: 248.5, cy: 604.5, rx: 107.5, ry: 87.5}
function ellipse(parent, e) {
	return parent.append('ellipse').attr('cx', e.cx).attr('cy', e.cy).attr('rx', e.rx).attr('ry', e.ry)
}
ellipse(svg, vennA).attr('fill', '#58b6de')
ellipse(svg, vennB).attr('fill', '#e6e34e')
ellipse(defs.append('clipPath').attr('id', 'vennClip'), vennA)
ellipse(svg, vennB).attr('fill', '#a9c84a').attr('clip-path', 'url(#vennClip)')
ellipse(svg, vennA).attr('fill', 'none').attr('stroke', '#8a6aa0').attr('stroke-width', 0.8)
ellipse(svg, vennB).attr('fill', 'none').attr('stroke', '#8a6aa0').attr('stroke-width', 0.8)
label(svg, 99, 533, '54', 9, {anchor: 'middle'})
label(svg, 242, 533, '81', 9, {anchor: 'middle'})
label(svg, 180, 654, '100', 9, {anchor: 'middle'})

function geneColumn(list, x, italic) {
	list.forEach((t, i) => {
		label(svg, x, 550.5 + i * 12.85, t, 10, {style: italic ? 'italic' : null})
	})
}
geneColumn(vennLeftGenes, 47, false)
geneColumn(vennLeftItalic, 101, true)
geneColumn(vennRightGenes, 228, false)
geneColumn(vennRightItalic, 280, true)

vline(svg, 183.5, 660, 674, 1, '#222')
hline(svg, 183, 376, 674, 1, '#222')
arrowHead(svg, 386, 674, 'right', 16)

// heat maps
let heatColor = d3.scaleLinear().domain(colorDomain).range(colorRange).clamp(true)

function drawHeat(x0, x1, y0, y1, genes, values, groups, purple, labelX, labelSize) {
	let xs = d3.scaleBand().domain(d3.range(groups.length)).range([x0, x1])
	let ys = d3.scaleBand().domain(genes).range([y0, y1])
	let g = svg.append('g').attr('shape-rendering', 'crispEdges')
	let rows = g.selectAll('g').data(values).join('g')
	rows.selectAll('rect').data((d, r) => d.map((v, c) => ({v: v, c: c, r: r}))).join('rect')
		.attr('x', d => xs(d.c))
		.attr('y', d => ys(genes[d.r]))
		.attr('width', xs.bandwidth() + 0.5)
		.attr('height', ys.bandwidth() + 0.5)
		.attr('fill', d => heatColor(d.v))
	genes.forEach(n => {
		label(svg, labelX, ys(n) + ys.bandwidth() / 2 + labelSize * 0.36, n, labelSize, {fill: purple.indexOf(n) >= 0 ? '#8e2a6e' : '#1a1a1a'})
	})
	return xs
}

function drawSquares(xs, groups, cy) {
	svg.append('g').selectAll('rect').data(groups).join('rect')
		.attr('x', (d, i) => xs(i) + xs.bandwidth() / 2 - 3)
		.attr('y', cy - 3)
		.attr('width', 6).attr('height', 6)
		.attr('fill', d => groupColors[d])
}

function drawLegend(x0, x1, y, h) {
	let id = 'leg' + Math.round(x0)
	let grad = defs.append('linearGradient').attr('id', id)
	colorDomain.forEach((d, i) => {
		grad.append('stop').attr('offset', d / 12).attr('stop-color', colorRange[i])
	})
	svg.append('rect').attr('x', x0).attr('y', y).attr('width', x1 - x0).attr('height', h).attr('fill', `url(#${id})`)
}

let bigX = drawHeat(396, 661.7, 525, 983.3, bigGenes, bigValues, bigGroups, bigPurple, 666, 8.5)
drawSquares(bigX, bigGroups, 513)
label(svg, 396, 485, 'BAL DC2/3', 11)
label(svg, 396, 502.5, 'SS', 11)
label(svg, 451, 502.5, 'LPS', 11)
label(svg, 588, 502.5, 'Blood DC2/3', 11)
drawLegend(396, 662, 992, 7.5)
;[402, 520, 638].forEach((x, i) => {
	label(svg, x, 1013, legendTicks[i], 10.5, {anchor: 'middle'})
})
label(svg, 324, 984, 'Relative', 10.5)
label(svg, 324, 998, 'gene', 10.5)
label(svg, 324, 1012, 'expression', 10.5)

let smallX = drawHeat(25, 213.3, 783.3, 960, smallGenes, smallValues, smallGroups, smallPurple, 218, 10)
drawSquares(smallX, smallGroups, 776.5)
label(svg, 27, 748.5, 'BAL DC2/3', 11)
label(svg, 27, 767, 'SS', 11)
label(svg, 82, 767, 'LPS', 11)
drawLegend(25, 213.3, 967, 7)
;[30, 119, 208].forEach((x, i) => {
	label(svg, x, 990, legendTicks[i], 10.5, {anchor: 'middle'})
})
label(svg, 120, 1008, 'Relative gene expression', 10.5, {anchor: 'middle'})
</script>
</body>
</html>
